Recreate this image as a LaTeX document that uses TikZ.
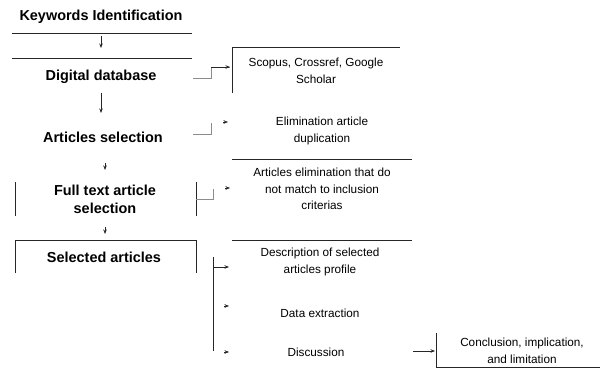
\documentclass[tikz,border=0pt]{standalone}
\usepackage{fontspec}
\setmainfont{Liberation Sans}
\usetikzlibrary{arrows.meta}

\tikzset{
    stepbold/.style={font=\bfseries\fontsize{14.5}{18}\selectfont, align=center, inner sep=0pt},
    sidetext/.style={font=\fontsize{11.8}{16.5}\selectfont, align=center, inner sep=0pt},
    frameline/.style={line width=0.9pt, black!85},
    linkline/.style={line width=0.6pt, black!45},
    tip/.style={-{Stealth[length=4.5pt, width=3.5pt]}, black!85},
}

\begin{document}
\begin{tikzpicture}[x=1bp, y=-1bp]
    \useasboundingbox (0, 0) rectangle (605, 368);

    % main column
    \node[stepbold] (kw) at (101, 17) {Keywords Identification};
    \node[stepbold] (db) at (101, 77) {Digital database};
    \node[stepbold] (as) at (103, 137) {Articles selection};
    \node[stepbold] (ft) at (105, 199) {Full text article\\selection};
    \node[stepbold] (sa) at (104, 257) {Selected articles};

    % side column
    \node[sidetext] (src) at (316, 71) {Scopus, Crossref, Google\\Scholar};
    \node[sidetext] (dup) at (322, 131) {Elimination article\\duplication};
    \node[sidetext] (inc) at (322, 189) {Articles elimination that do\\not match to inclusion\\criterias};
    \node[sidetext] (prof) at (320, 262) {Description of selected\\articles profile};
    \node[sidetext] (ext) at (320, 313) {Data extraction};
    \node[sidetext] (disc) at (316, 352) {Discussion};
    \node[sidetext] (conc) at (522, 351) {Conclusion, implication,\\and limitation};

    % frame pieces
    \draw[frameline] (12, 33) -- (192, 33);
    \draw[frameline] (12, 58) -- (192, 58);
    \draw[frameline] (232, 93) -- (232, 47) -- (400, 47);
    \draw[frameline] (232, 159) -- (412, 159);
    \draw[frameline] (15, 182) -- (15, 216);
    \draw[frameline] (196, 182) -- (196, 216);
    \draw[frameline] (15, 273) -- (15, 240) -- (196, 240) -- (196, 273);
    \draw[frameline] (232, 240) -- (412, 240);
    \draw[frameline] (436, 333) -- (436, 367) -- (600, 367);

    % down arrows
    \coordinate (kwout) at (kw.south |- 0, 36);
    \coordinate (dbin) at (kw.south |- 0, 48);
    \coordinate (dbout) at (kw.south |- 0, 93);
    \coordinate (asin) at (kw.south |- 0, 113);
    \coordinate (asout) at (105, 163);
    \coordinate (ftin) at (105, 170);
    \coordinate (ftout) at (105, 227);
    \coordinate (sain) at (105, 234);
    \draw[frameline, line width=0.7pt, tip] (kwout) -- (dbin);
    \draw[frameline, line width=0.7pt, tip] (dbout) -- (asin);
    \draw[linkline, black!20, tip] (asout) -- (ftin);
    \draw[linkline, black!20, tip] (ftout) -- (sain);

    % side links
    \coordinate (dbR) at (193, 78);
    \coordinate (srcL) at (230, 67);
    \draw[linkline] (dbR) -- (211, 78) |- (srcL);
    \draw[frameline, line width=0.7pt, tip] (211, 67) -- (srcL);

    \coordinate (asR) at (193, 134);
    \draw[linkline] (asR) -| (211, 123);
    \draw[tip] (223, 122) -- (228, 122);

    \coordinate (ftR) at (196, 199);
    \draw[linkline] (ftR) -| (213, 189);
    \draw[tip] (225, 188) -- (230, 188);

    \coordinate (saR) at (213, 257);
    \draw[frameline, line width=0.7pt] (saR) -- (213, 351);
    \draw[linkline, tip] (213, 267) -- (229, 267);
    \draw[tip] (224, 306) -- (229, 306);
    \draw[tip] (224, 352) -- (229, 352);

    \coordinate (discR) at (413, 351);
    \draw[linkline, black!70, tip] (discR) -- (435, 351);
\end{tikzpicture}
\end{document}
